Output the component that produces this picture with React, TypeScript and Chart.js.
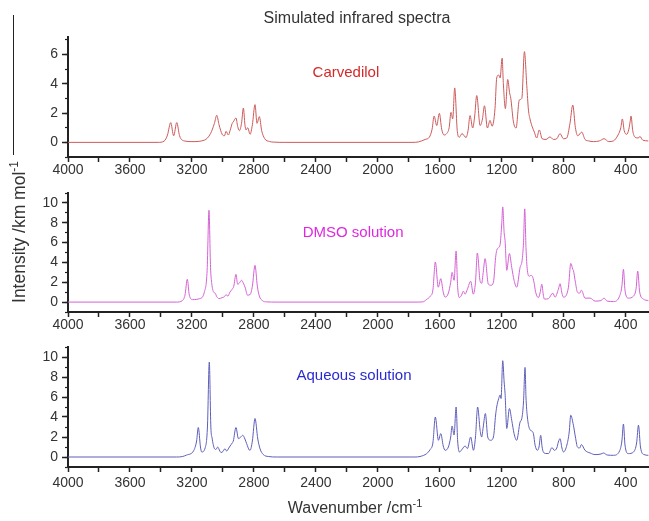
import React, { useEffect, useRef } from "react";
import { Chart, registerables } from "chart.js";

Chart.register(...registerables);

const FONT = '"Liberation Sans", Arial, Helvetica, sans-serif';

// ---- axis values ----
const xMin = 250;
const xMax = 4000;
const xTickStep = 200;
const xLabelStep = 400;
const yMin = -1;
const yMaxCarvedilol = 7.2;
const yMaxDmso = 11;
const yMaxAqueous = 11;

// ---- series: Carvedilol ----
const carvedilolWavenumber = [
  4000, 3420, 3380, 3358, 3337, 3318, 3298, 3280, 3250, 3200, 3120, 3080, 3055, 3040, 3025, 3005, 2990, 2980, 2965,
  2954, 2940, 2933, 2916, 2905, 2894, 2880, 2868, 2858, 2851, 2840, 2825, 2810, 2793, 2780, 2765, 2750, 2730, 2700,
  2675, 2600, 1780, 1738, 1695, 1668, 1650, 1637, 1620, 1603, 1588, 1573, 1556, 1540, 1528, 1517, 1504, 1487, 1474,
  1457, 1431, 1418, 1405, 1388, 1375, 1362, 1340, 1325, 1312, 1293, 1276, 1263, 1244, 1233, 1220, 1211, 1198, 1190,
  1177, 1162, 1150, 1142, 1125, 1108, 1087, 1071, 1054, 1039, 1028, 1018, 1005, 990, 975, 958, 940, 915, 889, 867,
  845, 824, 803, 781, 760, 742, 725, 710, 684, 663, 640, 609, 570, 540, 510, 480, 450, 432, 422, 410, 394, 380, 372,
  366, 355, 340, 320, 308, 290, 255,
];
const carvedilolIntensity = [
  0, 0, 0.08, 0.5, 1.35, 0.45, 1.35, 0.45, 0.1, 0.05, 0.15, 0.6, 1.3, 1.85, 1.2, 0.55, 0.45, 0.75, 0.5,
  0.8, 1.3, 1.4, 1.67, 1.1, 0.8, 1.3, 2.35, 1.2, 0.85, 1.0, 0.55, 1.2, 2.58, 1.3, 1.76, 0.8, 0.25, 0.06,
  0.02, 0, 0, 0.03, 0.2, 0.35, 0.9, 1.8, 1.15, 1.98, 0.9, 0.5, 0.6, 1.0, 2.05, 1.6, 3.72, 0.72, 0.35,
  0.6, 0.33, 0.8, 1.83, 0.98, 1.8, 3.2, 1.15, 1.6, 2.5, 0.98, 1.5, 1.1, 2.3, 4.4, 4.6, 4.4, 5.75, 4.0,
  2.3, 4.3, 3.4, 3.0, 1.4, 0.98, 2.9, 3.0, 6.2, 3.9, 2.2, 1.6, 1.1, 0.7, 0.3, 0.85, 0.25, 0.2, 0.37, 0.2,
  0.25, 0.6, 0.25, 0.3, 1.3, 2.55, 1.0, 0.45, 0.7, 0.2, 0.1, 0.05, 0.1, 0.25, 0.05, 0.1, 0.5, 1.0, 1.6, 0.8, 0.55, 0.9, 1.4,
  1.8, 0.8, 0.35, 0.3, 0.4, 0.15, 0.1,
];

// ---- series: DMSO solution ----
const dmsoWavenumber = [
  4000, 3300, 3262, 3245, 3230, 3217, 3195, 3150, 3120, 3102, 3090, 3080, 3072, 3060, 3050, 3040, 3025, 3005, 2990,
  2980, 2968, 2955, 2940, 2930, 2916, 2905, 2895, 2880, 2868, 2855, 2842, 2825, 2810, 2793, 2778, 2765, 2745, 2720,
  2650, 1760, 1710, 1685, 1663, 1645, 1629, 1610, 1594, 1578, 1566, 1545, 1530, 1521, 1508, 1495, 1485, 1474, 1460,
  1448, 1437, 1422, 1401, 1384, 1370, 1358, 1340, 1330, 1320, 1308, 1287, 1270, 1254, 1240, 1233, 1220, 1211, 1200,
  1194, 1185, 1179, 1168, 1151, 1136, 1121, 1104, 1082, 1069, 1060, 1052, 1044, 1035, 1022, 1012, 1000, 990, 983,
  964, 952, 942, 932, 925, 899, 871, 856, 835, 824, 812, 802, 770, 755, 742, 738, 725, 712, 698, 686, 663, 630, 598,
  560, 540, 520, 480, 440, 425, 415, 405, 383, 350, 333, 323, 310, 286, 254,
];
const dmsoIntensity = [
  0, 0, 0.15, 0.7, 2.3, 0.7, 0.25, 0.35, 1.0, 3.2, 9.26, 3.5, 1.85, 1.0, 0.9, 0.55, 0.35, 0.45, 0.55,
  0.75, 0.6, 1.0, 1.3, 1.6, 2.8, 1.8, 1.9, 2.2, 1.9, 1.4, 0.7, 0.75, 1.6, 3.7, 1.6, 0.6, 0.15, 0.02,
  0, 0, 0.02, 0.27, 0.57, 1.2, 4.04, 1.5, 2.36, 1.0, 0.5, 0.9, 2.0, 3.0, 2.2, 5.15, 1.5, 0.45, 0.7,
  1.1, 0.8, 1.3, 2.1, 0.8, 2.0, 4.95, 2.1, 1.9, 3.0, 4.38, 1.8, 1.7, 2.0, 4.5, 5.2, 5.5, 5.8, 8.0,
  9.6, 7.0, 6.2, 3.2, 4.9, 3.5, 2.2, 1.5, 3.5, 4.2, 6.0, 9.4, 5.5, 3.2, 2.6, 2.7, 2.5, 1.8, 1.1,
  0.45, 1.0, 1.8, 0.7, 0.3, 0.35, 0.9, 0.5, 1.3, 1.85, 0.9, 0.5, 1.5, 3.9, 3.3, 3.2, 2.0, 1.0, 0.9, 1.2, 0.4, 0.4, 0.1,
  0.15, 0.4, 0.1, 0.05, 0.6, 1.6, 3.3, 1.2, 0.4, 0.6, 1.4, 3.13, 1.0, 0.3, 0.15,
];

// ---- series: Aqueous solution ----
const aqueousWavenumber = [
  4000, 3300, 3260, 3234, 3190, 3170, 3159, 3145, 3137, 3115, 3100, 3088, 3078, 3070, 3055, 3045, 3034, 3020, 3012,
  3000, 2987, 2976, 2962, 2954, 2940, 2933, 2916, 2900, 2885, 2872, 2858, 2847, 2830, 2825, 2810, 2793, 2775, 2760,
  2740, 2707, 2650, 1760, 1728, 1685, 1663, 1645, 1629, 1609, 1594, 1578, 1566, 1545, 1530, 1521, 1508, 1495, 1485,
  1474, 1455, 1437, 1422, 1401, 1383, 1370, 1356, 1340, 1330, 1320, 1306, 1291, 1272, 1254, 1240, 1233, 1220, 1211,
  1205, 1194, 1185, 1179, 1168, 1151, 1136, 1121, 1104, 1082, 1071, 1060, 1050, 1044, 1035, 1022, 1007, 996, 985,
  970, 960, 949, 940, 932, 915, 899, 876, 861, 845, 835, 824, 812, 802, 780, 765, 755, 738, 725, 712, 698, 686, 663,
  630, 598, 560, 544, 520, 480, 440, 425, 415, 405, 383, 350, 330, 318, 305, 282, 254,
];
const aqueousIntensity = [
  0, 0, 0.05, 0.2, 0.6, 1.6, 2.95, 1.0, 0.5, 0.9, 3.0, 9.5, 3.0, 1.9, 0.85, 0.75, 1.0, 0.6, 0.45,
  0.55, 0.83, 0.6, 0.9, 1.1, 1.4, 1.6, 2.95, 1.84, 2.0, 2.17, 1.8, 1.34, 0.7, 0.67, 1.6, 3.85, 1.8, 0.8,
  0.25, 0.05, 0, 0, 0.05, 0.34, 0.74, 1.4, 4.0, 1.67, 2.34, 1.1, 0.67, 1.0, 2.0, 3.1, 2.2, 5.0, 1.6,
  0.5, 0.8, 1.1, 0.84, 2.0, 0.67, 2.0, 5.0, 2.67, 2.0, 3.0, 4.35, 2.0, 1.67, 2.0, 4.2, 5.0, 5.85, 6.2,
  5.85, 9.63, 7.5, 6.35, 2.85, 4.85, 3.68, 2.34, 1.67, 3.5, 3.85, 5.5, 8.96, 6.0, 4.0, 2.85, 2.6, 2.34, 1.17,
  0.67, 1.0, 2.17, 1.0, 0.5, 0.35, 0.34, 0.94, 0.67, 0.9, 1.5, 1.84, 0.9, 0.5, 1.2, 2.5, 4.18, 3.18, 2.0, 1.0, 0.9, 1.24, 0.67,
  0.4, 0.24, 0.3, 0.4, 0.2, 0.17, 0.6, 1.6, 3.3, 1.2, 0.34, 0.5, 1.4, 3.18, 1.0, 0.24, 0.17,
];

// ---- texts ----
const titleText = "Simulated infrared spectra";
const panelNames = ["Carvedilol", "DMSO solution", "Aqueous solution"];

type Panel = {
  name: string;
  wn: number[];
  iv: number[];
  yMax: number;
  lineColor: string;
  textColor: string;
  labelAt: [number, number];
  top: number;
  height: number;
  padTop: number;
  xAxisHeight: number;
  xTickPad: number;
};

const panels: Panel[] = [
  {
    name: panelNames[0], wn: carvedilolWavenumber, iv: carvedilolIntensity, yMax: yMaxCarvedilol,
    lineColor: "#cc5a5a", textColor: "#d62828", labelAt: [2206, 4.77],
    top: 0, height: 185, padTop: 37, xAxisHeight: 28, xTickPad: 0,
  },
  {
    name: panelNames[1], wn: dmsoWavenumber, iv: dmsoIntensity, yMax: yMaxDmso,
    lineColor: "#d462d4", textColor: "#e028e0", labelAt: [2160, 6.94],
    top: 170, height: 170, padTop: 23, xAxisHeight: 28, xTickPad: 0,
  },
  {
    name: panelNames[2], wn: aqueousWavenumber, iv: aqueousIntensity, yMax: yMaxAqueous,
    lineColor: "#5e5eba", textColor: "#2a2ad0", labelAt: [2154, 8.12],
    top: 325, height: 175, padTop: 22, xAxisHeight: 33, xTickPad: 3,
  },
];

const panelLabelPlugin = {
  id: "panelLabel",
  afterDatasetsDraw(chart: any, _args: any, opts: any) {
    const { ctx, scales } = chart;
    ctx.save();
    ctx.font = `15px ${FONT}`;
    ctx.fillStyle = opts.color;
    ctx.textAlign = "center";
    ctx.textBaseline = "middle";
    ctx.fillText(opts.text, scales.x.getPixelForValue(opts.x), scales.y.getPixelForValue(opts.y));
    ctx.restore();
  },
};

function makeChart(canvas: HTMLCanvasElement, p: Panel) {
  const tickFont = { family: FONT, size: 14 };
  return new Chart(canvas, {
    type: "line",
    data: {
      datasets: [
        {
          data: p.wn.map((w, i) => ({ x: w, y: p.iv[i] })),
          borderColor: p.lineColor,
          borderWidth: 1,
          pointRadius: 0,
          fill: false,
          cubicInterpolationMode: "monotone",
        },
      ],
    },
    options: {
      animation: false,
      responsive: false,
      devicePixelRatio: 1,
      events: [],
      layout: { padding: { top: p.padTop, left: 0, right: 0, bottom: 0 } },
      plugins: {
        legend: { display: false },
        tooltip: { enabled: false },
        title: { display: false },
        panelLabel: { text: p.name, color: p.textColor, x: p.labelAt[0], y: p.labelAt[1] },
      } as any,
      scales: {
        x: {
          type: "linear",
          reverse: true,
          min: xMin,
          max: xMax,
          ticks: {
            stepSize: xTickStep,
            includeBounds: false,
            autoSkip: false,
            maxRotation: 0,
            padding: p.xTickPad,
            color: "#333",
            font: tickFont,
            callback: (v: any) => (Number(v) % xLabelStep === 0 ? String(v) : ""),
          },
          grid: { drawOnChartArea: false, drawTicks: true, tickLength: 5, tickColor: "#222", tickWidth: 1.5 },
          border: { display: true, color: "#222", width: 2 },
          afterFit: (s: any) => {
            s.height = p.xAxisHeight;
          },
        },
        y: {
          type: "linear",
          position: "left",
          weight: 1,
          min: yMin,
          max: p.yMax,
          ticks: { stepSize: 1, includeBounds: false, padding: 4, color: "#333", font: tickFont },
          afterBuildTicks: (s: any) => {
            s.ticks = s.ticks.filter((t: any) => t.value >= 0 && t.value % 2 === 0);
          },
          grid: { drawOnChartArea: false, drawTicks: true, tickLength: 6, tickColor: "#222", tickWidth: 1.5 },
          border: { display: true, color: "#222", width: 2 },
          afterFit: (s: any) => {
            s.width = 68;
          },
        },
        yMinor: {
          type: "linear",
          position: "left",
          weight: 0,
          min: yMin,
          max: p.yMax,
          ticks: { stepSize: 1, includeBounds: false, display: false },
          grid: { drawOnChartArea: false, drawTicks: true, tickLength: 3, tickColor: "#222", tickWidth: 1.2 },
          border: { display: false },
          afterFit: (s: any) => {
            s.width = 0;
          },
        },
      } as any,
    },
    plugins: [panelLabelPlugin as any],
  });
}

export default function App() {
  const refs = [useRef<HTMLCanvasElement>(null), useRef<HTMLCanvasElement>(null), useRef<HTMLCanvasElement>(null)];

  useEffect(() => {
    const charts = panels.map((p, i) => makeChart(refs[i].current as HTMLCanvasElement, p));
    return () => charts.forEach((c) => c.destroy());
  }, []);

  const textBase: React.CSSProperties = {
    position: "absolute",
    fontFamily: FONT,
    color: "#333",
    whiteSpace: "nowrap",
    textAlign: "center",
  };

  return (
    <div style={{ position: "absolute", left: 0, top: 0, width: 649, height: 521, background: "#fff", overflow: "hidden" }}>
      {panels.map((p, i) => (
        <canvas
          key={p.name}
          ref={refs[i]}
          width={649}
          height={p.height}
          style={{ position: "absolute", left: 0, top: p.top, width: 649, height: p.height, display: "block" }}
        />
      ))}
      <div style={{ ...textBase, left: 157, top: 8, width: 400, height: 20, lineHeight: "20px", fontSize: 16 }}>{titleText}</div>
      <div
        style={{
          ...textBase,
          left: 19 - 100,
          top: 232 - 10,
          width: 200,
          height: 20,
          lineHeight: "20px",
          fontSize: 17.5,
          transform: "rotate(-90deg)",
        }}
      >
        Intensity /km mol<sup style={{ fontSize: 12, lineHeight: 0, verticalAlign: "super" }}>-1</sup>
      </div>
      <div style={{ ...textBase, left: 255, top: 498, width: 200, height: 20, lineHeight: "20px", fontSize: 16 }}>
        Wavenumber /cm<sup style={{ fontSize: 11, lineHeight: 0, verticalAlign: "super" }}>-1</sup>
      </div>
      <div style={{ position: "absolute", left: 13, top: 15, width: 1, height: 140, background: "#222" }} />
    </div>
  );
}
